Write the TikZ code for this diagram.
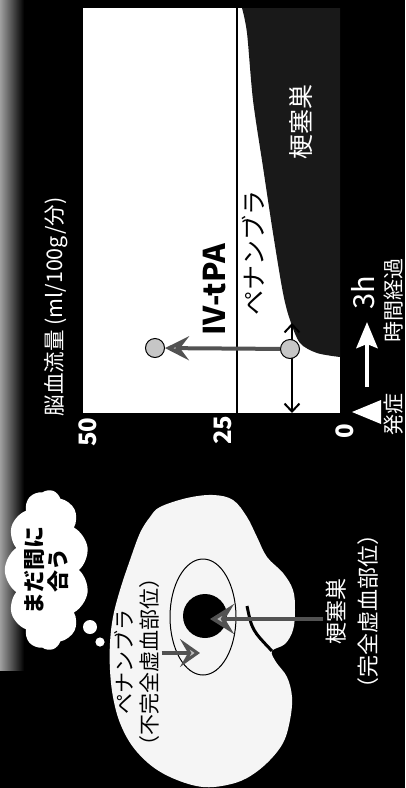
\documentclass[tikz,border=0pt]{standalone}
\usepackage{fontspec}
\setmainfont{Noto Sans CJK JP}
\usetikzlibrary{arrows.meta,shapes.geometric,shapes.symbols}

\begin{document}
\begin{tikzpicture}[x=1pt,y=-1pt,
  every node/.style={rotate=90,inner sep=2pt},
  lbl/.style={font=\fontsize{21}{25}\selectfont,align=center},
  wlbl/.style={lbl,text=white},
  tick/.style={font=\fontsize{24}{28}\selectfont\bfseries,text=white},
  dot/.style={circle,draw,line width=1pt,fill=gray!45,minimum size=19pt,inner sep=0pt},
  pointer/.style={draw=black!68,line width=4pt}]

\useasboundingbox (0,0) rectangle (405,788);
\fill[black] (0,0) rectangle (405,788);
\shade[left color=gray!75,right color=black] (0,0) rectangle (24,670);

% flow chart: white field, infarct area below the curve
\fill[white] (83,8) rectangle (340,413);
\fill[black!90] plot[smooth] coordinates {
  (242,8) (247,33) (253,100) (263,167) (273,233) (283,293) (290,320) (300,343) (317,353) (340,357)
} -- (340,8) -- cycle;

% 25 ml threshold
\draw[line width=1.5pt] (237,8) -- (237,413);

% time window from onset, and the tPA jump
\coordinate (tStart) at (292,413);
\coordinate (tEnd) at (292,323);
\draw[line width=2pt,>={Straight Barb[length=8pt,width=15pt]},<->] (tStart) -- (tEnd);
\node[dot] (pOld) at (290,349) {};
\node[dot] (pNew) at (155,348) {};
\draw[pointer,-{Stealth[length=24pt,width=24pt,inset=9pt,fill=gray!50]}] (pOld) -- (pNew);

\node[font=\fontsize{30}{34}\selectfont\bfseries] (tpaLab) at (215,290) {IV-tPA};
\node[lbl,font=\fontsize{25}{30}\selectfont] (penChart) at (253,253) {ペナンブラ};
\node[wlbl,font=\fontsize{25}{30}\selectfont] (infChart) at (301,122) {梗塞巣};

% axes labels
\node[wlbl,font=\fontsize{21.5}{26}\selectfont] (flowLab) at (56,307) {脳血流量 (ml/100g/分)};
\node[tick] (t50) at (88,432) {50};
\node[tick] (t25) at (223,430) {25};
\node[tick] (t0) at (345,431) {0};

% onset marker and elapsed time
\fill[white] (352,412) -- (381,400) -- (381,424) -- cycle;
\node[wlbl] (onset) at (394,414) {発症};
\coordinate (arrTail) at (367,387);
\coordinate (arrHead) at (367,322);
\draw[white,line width=4.5pt,-{Stealth[length=26pt,width=21pt,inset=4pt]}] (arrTail) -- (arrHead);
\node[wlbl,font=\fontsize{29}{34}\selectfont] (hLab) at (363,293) {3h};
\node[wlbl] (elapsed) at (394,300) {時間経過};

% brain section
\fill[gray!8] plot[smooth cycle,tension=0.6] coordinates {
  (150,517) (160,507) (187,498) (213,495) (233,500) (247,517) (257,537) (267,557)
  (283,573) (293,590) (295,610) (293,630) (285,644) (272,651) (276,662) (287,677)
  (292,697) (290,720) (283,743) (267,763) (247,778) (227,785) (203,787) (177,780)
  (153,767) (133,747) (120,723) (113,697) (110,670) (110,643) (113,617) (120,590)
  (130,560) (140,533)
};
\draw[line width=3pt] (247,606) .. controls (252,630) .. (272,651);

\node[ellipse,draw,line width=1pt,minimum width=116pt,minimum height=66pt] (penumbra) at (203,617) {};
\node[circle,fill=black,minimum size=44pt,inner sep=0pt] (core) at (205,616) {};

\node[lbl] (penLabel) at (137,662) {ペナンブラ\\（不完全虚血部位）};
\node[wlbl,font=\fontsize{22}{32}\selectfont] (infLabel) at (352,611) {梗塞巣\\（完全虚血部位）};

\coordinate (coreTip) at (210,619);
\coordinate (penTip) at (200,653);
\draw[pointer,-{Stealth[length=24pt,width=30pt,inset=9pt,fill=gray!50]}] (infLabel.north |- coreTip) -- (coreTip);
\draw[pointer,-{Stealth[length=20pt,width=28pt,inset=8pt,fill=gray!50]}] (penLabel.south |- penTip) -- (penTip);

% thought cloud
\node[cloud,fill=white,cloud puffs=11,cloud puff arc=110,cloud ignores aspect,
  minimum width=160pt,minimum height=78pt,align=center,
  font=\fontsize{22}{24}\selectfont\bfseries] (hope) at (47,570) {まだ間に\\合う};
\fill[white] (90,627) circle (7);
\fill[white] (100,642) circle (4.6);

\end{tikzpicture}
\end{document}
